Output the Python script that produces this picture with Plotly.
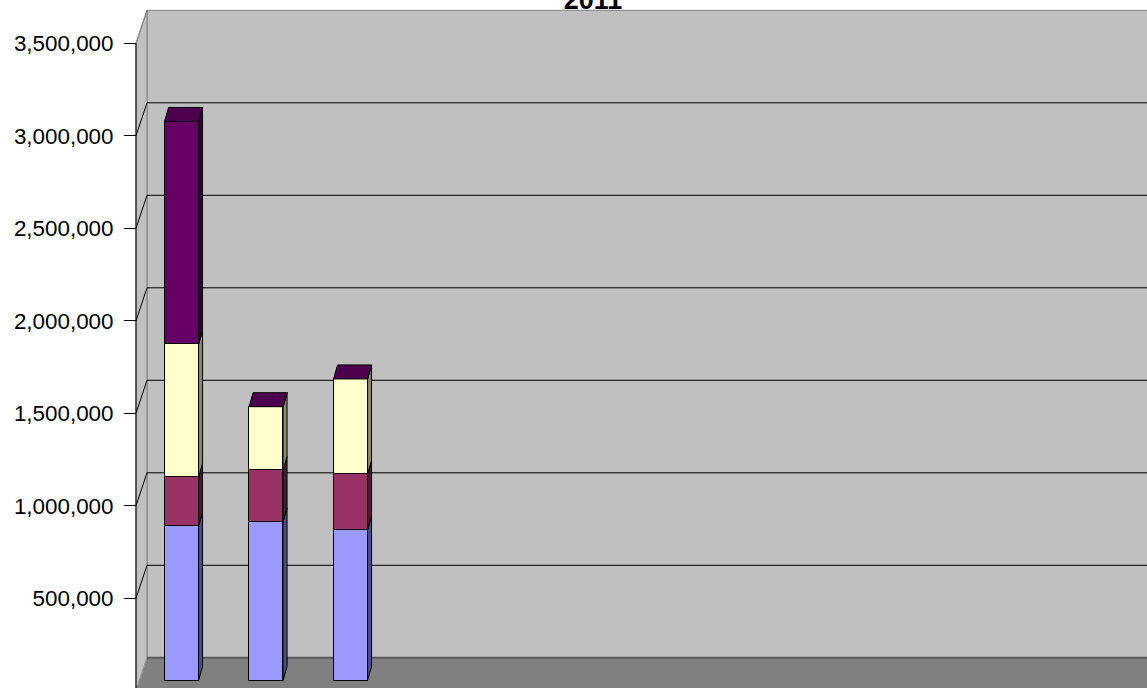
import numpy as np
import plotly.graph_objects as go

# ---------------- data ----------------
title_text = "2011"
months = ["Jan", "Feb", "Mar", "Apr", "May", "Jun",
          "Jul", "Aug", "Sep", "Oct", "Nov", "Dec"]
series_names = ["Series1", "Series2", "Series3", "Series4"]
s1_blue = [835000, 857000, 814000]
s2_maroon = [263000, 279000, 301000]
s3_yellow = [719000, 344000, 515000]
s4_purple = [1205000, 0, 0]
y_ticks = [500000, 1000000, 1500000, 2000000, 2500000, 3000000, 3500000]

# ---------------- styles / geometry ----------------
W, H = 1147, 688
ML = 128                      # left margin
AXIS_PX = 136                 # pixel x of the front vertical axis
CAT_PX = 84.5                 # pixels per category
PX_PER_500K = 92.5
ZERO_PX = 690.8               # pixel y of value 0 on front plane
ypu = 500000 / PX_PER_500K    # value units per pixel
xpu = 1 / CAT_PX              # category units per pixel

x0 = -0.5
xr = [x0 - (AXIS_PX - ML) * xpu, x0 - (AXIS_PX - ML) * xpu + (W - ML) * xpu]
ymax = ZERO_PX * ypu
yr = [ymax - H * ypu, ymax]

WX, WY = 11 * xpu, 33 * ypu        # back wall depth offset
BX, BY = 3.3 * xpu, 10.3 * ypu     # bar plane offset
DX, DY = 4 * xpu, 14 * ypu         # bar depth
BW = 34 * xpu                      # bar width
x_end = len(months) - 0.5 + WX + 1
top_val = y_ticks[-1]

colors = ["#9999FF", "#993366", "#FFFFCC", "#660066"]
side_colors = ["#4D4D88", "#4D1A33", "#88886A", "#330033"]
top_color = "#4D004D"
series = [s1_blue, s2_maroon, s3_yellow, s4_purple]

fig = go.Figure()

n = len(s1_blue)
idx = np.arange(n)
xc = idx + BX
cum = np.zeros(n)
for name, vals, col, scol in zip(series_names, series, colors, side_colors):
    vals = np.array(vals, dtype=float)
    base = BY + cum
    fig.add_trace(go.Bar(x=xc, y=vals, base=base, width=BW, name=name,
                         marker=dict(color=col, line=dict(color="black", width=1)),
                         showlegend=False))
    # right side faces
    sx, sy = [], []
    for i in range(n):
        r = xc[i] + BW / 2
        b, t = base[i], base[i] + vals[i]
        sx += [r, r + DX, r + DX, r, r, None]
        sy += [b, b + DY, t + DY, t, b, None]
    fig.add_trace(go.Scatter(x=sx, y=sy, mode="lines", fill="toself", fillcolor=scol,
                             line=dict(color="black", width=1), hoverinfo="skip",
                             showlegend=False))
    cum = cum + vals

# top faces
tx, ty = [], []
for i in range(n):
    l, r = xc[i] - BW / 2, xc[i] + BW / 2
    t = BY + cum[i]
    tx += [l, r, r + DX, l + DX, l, None]
    ty += [t, t, t + DY, t + DY, t, None]
fig.add_trace(go.Scatter(x=tx, y=ty, mode="lines", fill="toself", fillcolor=top_color,
                         line=dict(color="black", width=1), hoverinfo="skip",
                         showlegend=False))

shapes = []
# back wall
shapes.append(dict(type="rect", xref="x", yref="y", x0=x0 + WX, x1=x_end, y0=WY, y1=top_val + WY,
                   fillcolor="#C0C0C0", line=dict(color="#808080", width=1), layer="below"))
# side wall
shapes.append(dict(type="path", xref="x", yref="y",
                   path=f"M {x0},{0} L {x0 + WX},{WY} L {x0 + WX},{top_val + WY} L {x0},{top_val} Z",
                   fillcolor="#C0C0C0", line=dict(color="#808080", width=1), layer="below"))
# floor
shapes.append(dict(type="path", xref="x", yref="y",
                   path=f"M {x0},{0} L {x_end},{0} L {x_end},{WY} L {x0 + WX},{WY} Z",
                   fillcolor="#808080", line=dict(width=0), layer="below"))
shapes.append(dict(type="line", xref="x", yref="y", x0=x0 + WX, x1=x_end, y0=WY, y1=WY,
                   line=dict(color="#595959", width=2), layer="below"))
shapes.append(dict(type="line", xref="x", yref="y", x0=x0, x1=x0 + WX, y0=0, y1=WY,
                   line=dict(color="#A0A0A0", width=1, dash="dot"), layer="below"))
# gridlines on wall + side diagonals
for t in y_ticks:
    c = "#808080" if t == top_val else "black"
    if t != top_val:
        shapes.append(dict(type="line", xref="x", yref="y", x0=x0 + WX, x1=x_end,
                           y0=t + WY, y1=t + WY, line=dict(color=c, width=1), layer="below"))
    shapes.append(dict(type="line", xref="x", yref="y", x0=x0, x1=x0 + WX,
                       y0=t, y1=t + WY, line=dict(color=c, width=1), layer="below"))
# front vertical axis line
shapes.append(dict(type="line", xref="x", yref="y", x0=x0, x1=x0, y0=yr[0], y1=top_val,
                   line=dict(color="black", width=1), layer="above"))

fig.update_layout(
    width=W, height=H,
    margin=dict(l=ML, r=0, t=0, b=0, pad=0),
    paper_bgcolor="white", plot_bgcolor="white",
    barmode="overlay", bargap=0,
    showlegend=False,
    font=dict(family="Liberation Sans, Arial, sans-serif", color="black"),
    title=dict(text="<b>" + title_text + "</b>", x=593 / W, xanchor="center",
               yref="container", y=(H - 9) / H, yanchor="bottom",
               font=dict(size=27, family="Liberation Sans, Arial, sans-serif", color="black")),
    xaxis=dict(range=xr, showgrid=False, zeroline=False, showline=False,
               showticklabels=False, ticks="", tickvals=list(range(len(months))),
               ticktext=months),
    yaxis=dict(range=yr, showgrid=False, zeroline=False, showline=False,
               anchor="free", position=(AXIS_PX - ML) / (W - ML),
               tickmode="array", tickvals=y_ticks, tickformat=",",
               ticks="outside", ticklen=12, tickcolor="black", tickwidth=1,
               ticklabelstandoff=6,
               tickfont=dict(size=22.4, family="Liberation Sans, Arial, sans-serif",
                             color="black")),
    shapes=shapes,
)

fig.write_html("out.html")
